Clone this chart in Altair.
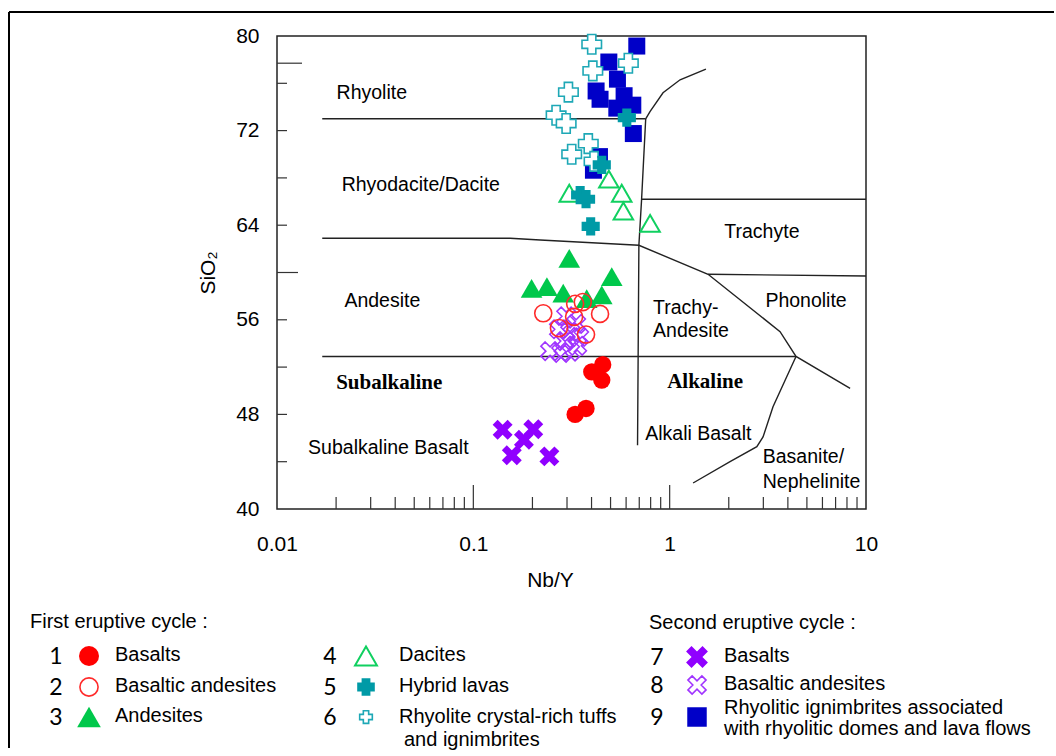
import altair as alt
import pandas as pd

# ---------------- samples: Nb/Y ratio and SiO2 (wt %) ----------------
# First eruptive cycle
basalts1_nby = [0.456, 0.401, 0.451, 0.330, 0.375]
basalts1_sio2 = [52.2, 51.6, 50.9, 48.0, 48.5]

bas_and1_nby = [0.227, 0.330, 0.361, 0.442, 0.326, 0.273, 0.375]
bas_and1_sio2 = [56.55, 57.35, 57.5, 56.5, 56.25, 55.3, 54.75]

andesites_nby = [0.308, 0.198, 0.237, 0.287, 0.378, 0.507, 0.451]
andesites_sio2 = [61.2, 58.65, 58.8, 58.25, 57.8, 59.65, 58.1]

dacites_nby = [0.308, 0.490, 0.570, 0.581, 0.795]
dacites_sio2 = [66.7, 67.9, 66.7, 65.2, 64.15]

hybrid_nby = [0.605, 0.451, 0.350, 0.375, 0.396]
hybrid_sio2 = [73.1, 69.1, 66.55, 66.2, 63.9]

tuffs_nby = [0.401, 0.616, 0.406, 0.305, 0.264, 0.297, 0.385, 0.317, 0.412]
tuffs_sio2 = [79.3, 77.7, 77.05, 75.25, 73.3, 72.6, 70.9, 70.0, 69.4]

# Second eruptive cycle
basalts2_nby = [0.141, 0.202, 0.181, 0.157, 0.244]
basalts2_sio2 = [46.7, 46.75, 45.85, 44.55, 44.45]

bas_and2_nby = [0.297, 0.334, 0.273, 0.311, 0.346, 0.293, 0.338, 0.246, 0.280, 0.311]
bas_and2_sio2 = [56.3, 55.65, 55.2, 54.95, 54.55, 54.2, 53.8, 53.35, 53.2, 53.3]

ign_nby = [0.680, 0.490, 0.542, 0.422, 0.442, 0.586, 0.649, 0.538, 0.653, 0.439, 0.409]
ign_sio2 = [79.15, 77.8, 76.35, 75.35, 74.65, 74.95, 74.15, 73.9, 71.75, 69.8, 68.65]

# ---------------- classification field boundaries ----------------
boundary_nby = {
    "rhyolite_base": [0.017, 0.755],
    "comendite": [0.755, 0.794, 0.925, 1.13, 1.53],
    "subalk_alk": [0.755, 0.719, 0.697, 0.686],
    "trachyte_base": [0.719, 10],
    "andesite_top": [0.017, 0.154, 0.219, 0.697, 1.569, 3.65, 4.40, 8.30],
    "phonolite_top": [1.569, 10],
    "basalt_top": [0.017, 4.40],
    "basanite": [4.40, 3.36, 2.99, 2.78, 2.03, 1.316],
}
boundary_sio2 = {
    "rhyolite_base": [73.0, 73.0],
    "comendite": [73.0, 73.6, 75.2, 76.3, 77.2],
    "subalk_alk": [73.0, 66.1, 62.3, 45.4],
    "trachyte_base": [66.2, 66.2],
    "andesite_top": [62.9, 62.9, 62.75, 62.3, 59.85, 55.0, 52.9, 50.2],
    "phonolite_top": [59.85, 59.7],
    "basalt_top": [52.9, 52.9],
    "basanite": [52.9, 48.65, 46.1, 45.27, 44.0, 42.2],
}

# field names (centred / left-aligned / bold series names)
field_names_c = ["Rhyolite", "Rhyodacite/Dacite", "Andesite", "Subalkaline Basalt",
                 "Trachyte", "Phonolite", "Alkali Basalt"]
field_nby_c = [0.0304, 0.054, 0.0344, 0.0369, 2.95, 4.95, 1.40]
field_sio2_c = [75.15, 67.4, 57.6, 45.13, 63.4, 57.6, 46.34]

field_names_l = ["Trachy-", "Andesite", "Basanite/", "Nephelinite"]
field_nby_l = [0.823, 0.823, 2.98, 2.98]
field_sio2_l = [56.97, 55.08, 44.37, 42.31]

series_names = ["Subalkaline", "Alkaline"]
series_nby = [0.0373, 1.515]
series_sio2 = [50.63, 50.77]

# axis ticks
x_tick_values = [0.01, 0.1, 1, 10]
y_tick_values = [40, 48, 56, 64, 72, 80]
x_minor = [0.02, 0.03, 0.04, 0.05, 0.06, 0.07, 0.08, 0.09,
           0.2, 0.3, 0.4, 0.5, 0.6, 0.7, 0.8, 0.9,
           2, 3, 4, 5, 6, 7, 8, 9]
x_major = [0.1, 1]
y_minor = [44, 48, 52, 56, 64, 68, 72, 76]
y_long = [60]
y_longer = [77.7]

# legend text
legend_headers = ["First eruptive cycle :", "Second eruptive cycle :"]
legend_numbers = ["1", "2", "3", "4", "5", "6", "7", "8", "9"]
legend_labels = [["Basalts"], ["Basaltic andesites"], ["Andesites"],
                 ["Dacites"], ["Hybrid lavas"], ["Rhyolite crystal-rich tuffs", " and ignimbrites"],
                 ["Basalts"], ["Basaltic andesites"],
                 ["Rhyolitic ignimbrites associated", "with rhyolitic domes and lava flows"]]

# ---------------- layout ----------------
W, H = 589, 473
OX, OY = 277, 36          # page position of the plot area
FONT = "Liberation Sans"


def px(x):
    return x - OX


def py(y):
    return y - OY


def plus_path(s):
    return f"M-1,-{s}H-{s}V-1H{s}V-{s}H1V{s}H{s}V1H-{s}V{s}H-1Z"


xscale = alt.Scale(type="log", domain=[0.01, 10], nice=False)
yscale = alt.Scale(domain=[40, 80], nice=False, zero=False)
xaxis = alt.Axis(values=x_tick_values, format="~g", ticks=False, tickSize=0, domain=False,
                 grid=False, labelFlush=False, labelFontSize=21, labelFont=FONT, labelColor="#000",
                 labelPadding=24, title="Nb/Y", titleFont=FONT, titleFontSize=21,
                 titleFontWeight="normal", titleColor="#000", titleX=273, titleY=71,
                 titleBaseline="middle")
yaxis = alt.Axis(values=y_tick_values, ticks=False, tickSize=0, domain=False, grid=False,
                 labelFontSize=21, labelFont=FONT, labelColor="#000", labelPadding=18,
                 title="SiO₂", titleFont=FONT, titleFontSize=21, titleFontWeight="normal",
                 titleColor="#000", titleX=-69, titleY=H / 2, titleBaseline="middle",
                 titleAlign="center")


def X():
    return alt.X("nby:Q", scale=xscale, axis=xaxis)


def Y():
    return alt.Y("sio2:Q", scale=yscale, axis=yaxis)


dummy = pd.DataFrame({"k": [0]})
layers = []

# boundaries
rows = []
for seg, xs in boundary_nby.items():
    for i, (a, b) in enumerate(zip(xs, boundary_sio2[seg])):
        rows.append({"seg": seg, "i": i, "nby": a, "sio2": b})
layers.append(
    alt.Chart(pd.DataFrame(rows)).mark_line(color="#222", strokeWidth=1.4).encode(
        x=X(), y=Y(), detail="seg:N", order="i:Q")
)

# inner ticks
layers.append(alt.Chart(pd.DataFrame({"sio2": y_minor})).mark_rule(color="#333", strokeWidth=1.2)
              .encode(y=Y(), x=alt.value(0), x2=alt.value(10)))
layers.append(alt.Chart(pd.DataFrame({"sio2": y_long})).mark_rule(color="#333", strokeWidth=1.2)
              .encode(y=Y(), x=alt.value(0), x2=alt.value(21)))
layers.append(alt.Chart(pd.DataFrame({"sio2": y_longer})).mark_rule(color="#333", strokeWidth=1.2)
              .encode(y=Y(), x=alt.value(0), x2=alt.value(25)))
layers.append(alt.Chart(pd.DataFrame({"nby": x_minor})).mark_rule(color="#333", strokeWidth=1.2)
              .encode(x=X(), y=alt.value(H), y2=alt.value(H - 12)))
layers.append(alt.Chart(pd.DataFrame({"nby": x_major})).mark_rule(color="#333", strokeWidth=1.2)
              .encode(x=X(), y=alt.value(H), y2=alt.value(H - 24)))

# field names
layers.append(alt.Chart(pd.DataFrame({"nby": field_nby_c, "sio2": field_sio2_c, "t": field_names_c}))
              .mark_text(align="center", baseline="middle", font=FONT, fontSize=19.5, color="#000")
              .encode(x=X(), y=Y(), text="t:N"))
layers.append(alt.Chart(pd.DataFrame({"nby": field_nby_l, "sio2": field_sio2_l, "t": field_names_l}))
              .mark_text(align="left", baseline="middle", font=FONT, fontSize=19.5, color="#000")
              .encode(x=X(), y=Y(), text="t:N"))
layers.append(alt.Chart(pd.DataFrame({"nby": series_nby, "sio2": series_sio2, "t": series_names}))
              .mark_text(align="center", baseline="middle", font="Liberation Serif", fontSize=21,
                         fontWeight="bold", color="#000")
              .encode(x=X(), y=Y(), text="t:N"))

# sample groups in drawing order: (legend index, x, y, mark style, legend size)
groups = [
    (8, ign_nby, ign_sio2, dict(shape="square", filled=True, color="#0000c8", size=289), 380),
    (6, basalts2_nby, basalts2_sio2,
     dict(shape=plus_path(0.33), angle=45, filled=True, color="#9000ff", size=450), 540),
    (7, bas_and2_nby, bas_and2_sio2,
     dict(shape=plus_path(0.3), angle=45, filled=False, color="#a035ff", strokeWidth=1.6, size=400), 390),
    (0, basalts1_nby, basalts1_sio2, dict(shape="circle", filled=True, color="#ff0000", size=300), 400),
    (2, andesites_nby, andesites_sio2,
     dict(shape="triangle-up", filled=True, color="#00c84b", size=470), 560),
    (3, dacites_nby, dacites_sio2,
     dict(shape="triangle-up", filled=False, color="#10d060", strokeWidth=2, size=380), 480),
    (1, bas_and1_nby, bas_and1_sio2,
     dict(shape="circle", filled=False, color="#ff2a2a", strokeWidth=1.6, size=290), 330),
    (5, tuffs_nby, tuffs_sio2,
     dict(shape=plus_path(0.42), filled=True, fill="white", stroke="#1ea8b6", strokeWidth=1.6,
          size=380), 160),
    (4, hybrid_nby, hybrid_sio2, dict(shape=plus_path(0.5), filled=True, color="#009aa6", size=330), 310),
]

for idx, xs, ys, style, _ in groups:
    layers.append(alt.Chart(pd.DataFrame({"nby": xs, "sio2": ys}))
                  .mark_point(opacity=1, **style).encode(x=X(), y=Y()))

# ---------------- legend ----------------
num_x = [56, 330, 657]
sym_x = [89, 366, 697]
lab_x = [115, 399, 724]
row_y = [[656, 687, 717], [656, 687, 717], [657, 685, 717]]
header_pos = [(30, 622), (649, 623)]

for (hx, hy), txt in zip(header_pos, legend_headers):
    layers.append(alt.Chart(dummy).mark_text(align="left", baseline="middle", font=FONT,
                                             fontSize=20, color="#000")
                  .encode(x=alt.value(px(hx)), y=alt.value(py(hy)), text=alt.value(txt)))

for idx, xs, ys, style, lsize in groups:
    col, row = divmod(idx, 3)
    yy = row_y[col][row]
    lstyle = dict(style)
    lstyle["size"] = lsize
    layers.append(alt.Chart(dummy).mark_point(opacity=1, **lstyle)
                  .encode(x=alt.value(px(sym_x[col])), y=alt.value(py(yy))))
    layers.append(alt.Chart(dummy).mark_text(align="center", baseline="middle", font="Lato",
                                             fontSize=23, color="#000")
                  .encode(x=alt.value(px(num_x[col])), y=alt.value(py(yy + 1)),
                          text=alt.value(legend_numbers[idx])))
    lines = legend_labels[idx]
    if len(lines) == 1:
        starts = [yy - 1]
    elif col == 1:
        starts = [yy, yy + 23]
    else:
        starts = [yy - 9, yy + 12]
    for ln, ly in zip(lines, starts):
        indent = 5 if ln.startswith(" ") else 0
        layers.append(alt.Chart(dummy).mark_text(align="left", baseline="middle", font=FONT,
                                                 fontSize=20, color="#000")
                      .encode(x=alt.value(px(lab_x[col] + indent)), y=alt.value(py(ly)),
                              text=alt.value(ln.strip())))

# figure frame (left and top edges)
layers.append(alt.Chart(dummy).mark_rule(color="#000", strokeWidth=2)
              .encode(x=alt.value(px(9)), y=alt.value(py(12)), y2=alt.value(py(748))))
layers.append(alt.Chart(dummy).mark_rule(color="#000", strokeWidth=2)
              .encode(x=alt.value(px(9)), x2=alt.value(px(1054)), y=alt.value(py(12))))

chart = (
    alt.layer(*layers)
    .properties(width=W, height=H, padding={"left": 8, "top": 11, "right": 0, "bottom": 0},
                background="white")
    .configure(font=FONT)
    .configure_view(stroke="#222", strokeWidth=1.5)
)

chart.save("out.html", embed_options={"renderer": "svg", "actions": False})
